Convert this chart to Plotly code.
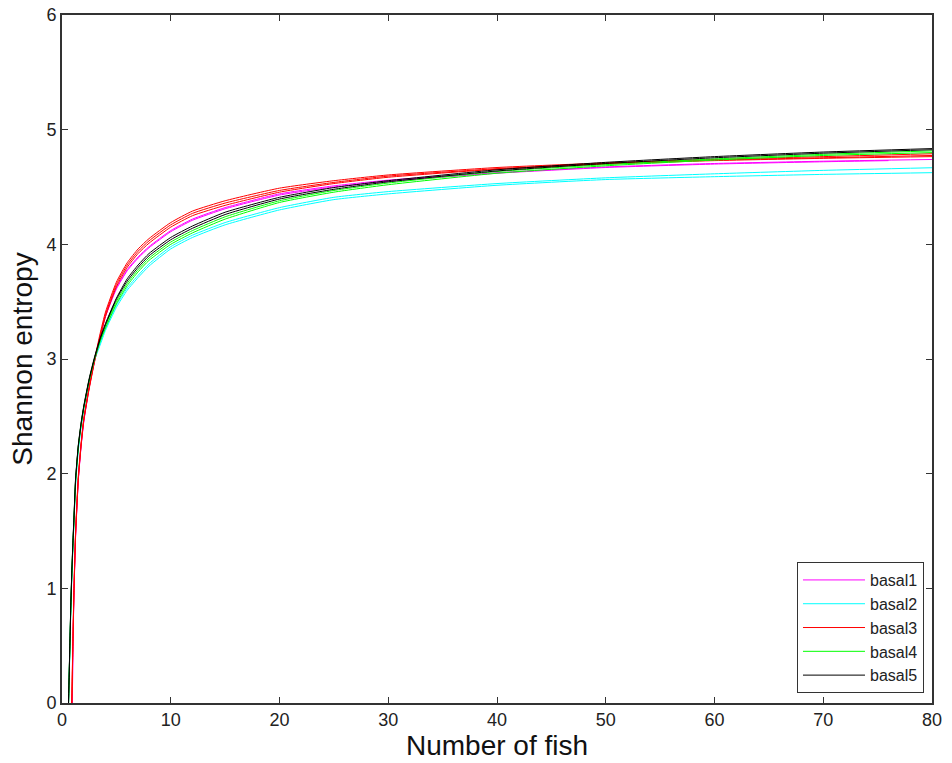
import plotly.graph_objects as go

# Number of fish (sample points)
fish = [0.6, 0.7, 0.8, 0.9, 0.95, 1.0, 1.1, 1.25, 1.5, 1.75, 2, 2.5, 3, 3.5, 4,
        5, 6, 7, 8, 10, 12, 15, 20, 25, 30, 40, 50, 60, 70, 80]

series_names = ["basal1", "basal2", "basal3", "basal4", "basal5"]
series_colors = ["#ff00ff", "#00ffff", "#ff0000", "#00ff00", "#000000"]

N = None
# basal1 (magenta) replicates
basal1_a = [N, N, N, N, 0.0, 0.45, 0.97, 1.47, 1.95, 2.24, 2.46, 2.76, 2.99, 3.20, 3.38,
            3.62, 3.78, 3.89, 3.98, 4.12, 4.22, 4.32, 4.44, 4.51, 4.56, 4.625, 4.675, 4.705, 4.725, 4.74]
basal1_b = [N, N, N, N, 0.0, 0.42, 0.95, 1.45, 1.94, 2.23, 2.45, 2.75, 2.98, 3.19, 3.37,
            3.61, 3.77, 3.88, 3.97, 4.11, 4.21, 4.31, 4.43, 4.50, 4.55, 4.62, 4.67, 4.70, 4.72, N]
basal1_b_last_fish = 76
basal1_b_last_value = 4.73

# basal2 (cyan) replicates
basal2_a = [0.0, 0.38, 0.78, 1.10, 1.23, 1.36, 1.58, 1.92, 2.22, 2.41, 2.57, 2.81, 3.00, 3.14, 3.27,
            3.47, 3.62, 3.73, 3.83, 3.98, 4.08, 4.19, 4.32, 4.41, 4.46, 4.53, 4.58, 4.615, 4.645, 4.668]
basal2_b = [0.0, 0.36, 0.76, 1.08, 1.21, 1.34, 1.56, 1.90, 2.20, 2.40, 2.56, 2.80, 2.99, 3.12, 3.25,
            3.45, 3.60, 3.71, 3.81, 3.96, 4.06, 4.17, 4.30, 4.39, 4.44, 4.515, 4.565, 4.59, 4.61, 4.625]

# basal3 (red) replicates
basal3_a = [N, N, N, 0.0, 0.28, 0.55, 1.00, 1.50, 1.98, 2.26, 2.48, 2.76, 3.00, 3.22, 3.41,
            3.67, 3.84, 3.96, 4.05, 4.19, 4.29, 4.38, 4.49, 4.555, 4.605, 4.67, 4.71, 4.74, 4.765, 4.79]
basal3_b = [N, N, N, 0.0, 0.25, 0.52, 0.98, 1.48, 1.96, 2.25, 2.47, 2.75, 2.99, 3.20, 3.39,
            3.65, 3.82, 3.94, 4.03, 4.17, 4.27, 4.36, 4.47, 4.54, 4.595, 4.66, 4.705, 4.735, 4.755, 4.775]
basal3_c = [N, N, N, 0.0, 0.22, 0.50, 0.96, 1.46, 1.95, 2.24, 2.46, 2.74, 2.98, 3.18, 3.37,
            3.63, 3.80, 3.92, 4.01, 4.15, 4.25, 4.34, 4.455, 4.53, 4.585, 4.655, 4.70, 4.73, 4.75, 4.765]

# basal4 (green) replicates
basal4_a = [0.0, 0.40, 0.80, 1.12, 1.25, 1.38, 1.60, 1.94, 2.24, 2.43, 2.58, 2.82, 3.01, 3.16, 3.29,
            3.50, 3.66, 3.78, 3.88, 4.02, 4.12, 4.24, 4.38, 4.47, 4.535, 4.635, 4.695, 4.745, 4.785, 4.815]
basal4_b = [0.0, 0.39, 0.79, 1.11, 1.24, 1.37, 1.59, 1.93, 2.23, 2.42, 2.57, 2.81, 3.00, 3.15, 3.27,
            3.48, 3.64, 3.76, 3.86, 4.00, 4.10, 4.22, 4.365, 4.455, 4.52, 4.62, 4.685, 4.735, 4.775, 4.80]

# basal5 (black) replicates
basal5_a = [0.0, 0.42, 0.82, 1.14, 1.27, 1.40, 1.62, 1.96, 2.25, 2.44, 2.59, 2.83, 3.02, 3.18, 3.31,
            3.53, 3.70, 3.82, 3.92, 4.06, 4.16, 4.28, 4.41, 4.495, 4.555, 4.65, 4.715, 4.765, 4.805, 4.835]
basal5_b = [0.0, 0.41, 0.81, 1.13, 1.26, 1.39, 1.61, 1.95, 2.24, 2.43, 2.58, 2.82, 3.01, 3.17, 3.30,
            3.52, 3.68, 3.80, 3.90, 4.04, 4.14, 4.26, 4.395, 4.48, 4.545, 4.64, 4.705, 4.755, 4.795, 4.825]

groups = [
    [basal1_a, basal1_b],
    [basal2_a, basal2_b],
    [basal3_a, basal3_b, basal3_c],
    [basal4_a, basal4_b],
    [basal5_a, basal5_b],
]

x_ticks = [0, 10, 20, 30, 40, 50, 60, 70, 80]
y_ticks = [0, 1, 2, 3, 4, 5, 6]

fig = go.Figure()
for name, color, reps in zip(series_names, series_colors, groups):
    for i, ys in enumerate(reps):
        xs = list(fish)
        yv = list(ys)
        if ys is basal1_b:
            xs = xs[:-1] + [basal1_b_last_fish]
            yv = yv[:-1] + [basal1_b_last_value]
        pts = [(a, b) for a, b in zip(xs, yv) if b is not None]
        fig.add_trace(go.Scatter(
            x=[p[0] for p in pts], y=[p[1] for p in pts],
            mode="lines", name=name, legendgroup=name,
            showlegend=(i == 0),
            line=dict(color=color, width=1, shape="spline", smoothing=0.5),
        ))

font_family = "Liberation Sans, Arial, sans-serif"
axis_common = dict(
    ticks="inside", ticklen=6, tickcolor="#333", tickwidth=1,
    showline=True, linecolor="#333", linewidth=1.6,
    mirror="allticks", showgrid=False, zeroline=False,
    tickfont=dict(size=18, color="#222"),
)
fig.update_layout(
    width=952, height=763,
    margin=dict(l=62, r=20, t=15, b=60),
    paper_bgcolor="white", plot_bgcolor="white",
    font=dict(family=font_family, color="#000000", size=18),
    xaxis=dict(
        range=[0, 80], tickvals=x_ticks,
        title=dict(text="Number of fish", font=dict(size=28, color="#111"), standoff=2),
        automargin=False, **axis_common,
    ),
    yaxis=dict(
        range=[0, 6], tickvals=y_ticks,
        title=dict(text="Shannon entropy", font=dict(size=28, color="#111"), standoff=6),
        automargin=False, **axis_common,
    ),
    legend=dict(
        x=0.9908, y=0.0145, xanchor="right", yanchor="bottom",
        bordercolor="#333", borderwidth=1, bgcolor="white",
        font=dict(size=16, color="#222"), itemwidth=62, tracegroupgap=0,
    ),
)

fig.write_html("out.html")
